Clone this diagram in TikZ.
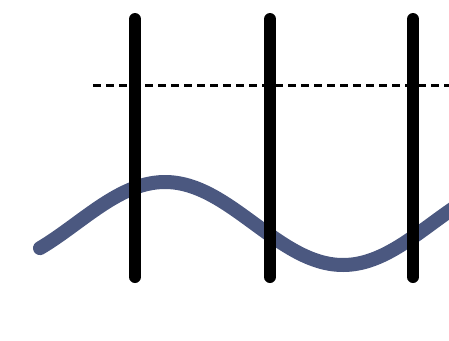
\documentclass[tikz,border=0pt]{standalone}
\definecolor{wavecol}{RGB}{75,88,128}
\tikzset{
  pole/.style={line width=12pt, line cap=round, black},
  wave/.style={line width=14pt, line cap=round, wavecol},
  level/.style={line width=3pt, dash pattern=on 8pt off 5pt, black}
}
\begin{document}
\begin{tikzpicture}[x=1pt,y=-1pt]
\useasboundingbox (0,0) rectangle (449,340);
\clip (0,0) rectangle (449,340);
\draw[wave] plot[domain=40:470, samples=120, smooth] (\x, {223.5 - 41.5*cos(deg((\x-165)*pi/178))});
\coordinate (dl) at (93,85);
\coordinate (dr) at (452,85);
\draw[level] (dl) -- (dr);
\foreach \i/\xx in {a/135, b/270, c/413} {
  \coordinate (\i top) at (\xx,19);
  \coordinate (\i bot) at (\xx,277);
  \draw[pole] (\i top) -- (\i bot);
}
\end{tikzpicture}
\end{document}
